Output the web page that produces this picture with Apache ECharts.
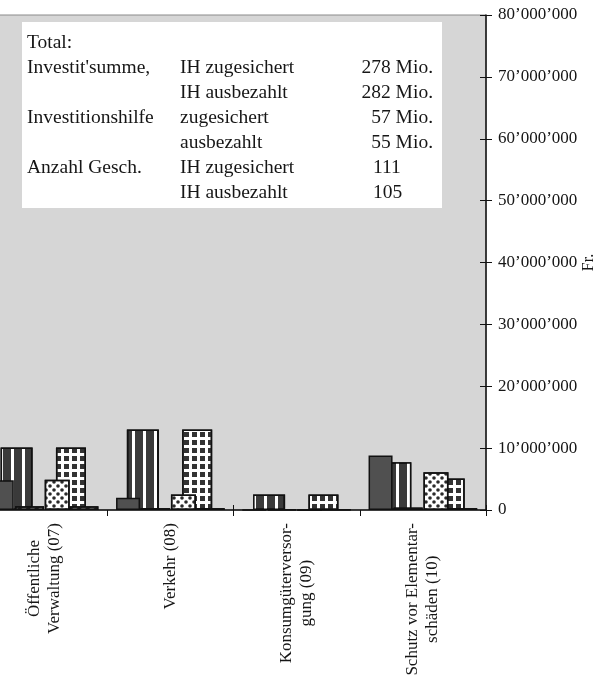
<!DOCTYPE html>
<html>
<head>
<meta charset="utf-8">
<script src="https://cdn.jsdelivr.net/npm/echarts@6/dist/echarts.min.js"></script>
<style>
html, body { margin: 0; padding: 0; background: #fff; }
#chart { width: 601px; height: 680px; }
</style>
</head>
<body>
<div id="chart"></div>
<script>
// categories (the chart is cut on the left, 07..10 are the visible ones)
const categories = ['Öffentliche\nVerwaltung (07)', 'Verkehr (08)', 'Konsumgüterversor-\ngung (09)', 'Schutz vor Elementar-\nschäden (10)'];

// values in Fr.
const invSummeZug = [4800000, 2000000, 0, 8800000];      // Investit'summe, IH zugesichert
const invSummeAus = [10100000, 13000000, 2500000, 7700000]; // Investit'summe, IH ausbezahlt
const anzahlZug   = [600000, 300000, 100000, 400000];     // Anzahl Gesch. IH zugesichert
const ihZug       = [4900000, 2500000, 0, 6100000];       // Investitionshilfe zugesichert
const ihAus       = [10100000, 13000000, 2500000, 5100000]; // Investitionshilfe ausbezahlt
const anzahlAus   = [600000, 300000, 100000, 300000];     // Anzahl Gesch. IH ausbezahlt

const yMin = 0, yMax = 80000000, yStep = 10000000;

// text box with the totals
const totalsRows = [
    ['Total:', '', ''],
    ["Investit'summe,", 'IH zugesichert', '278 Mio.'],
    ['', 'IH ausbezahlt', '282 Mio.'],
    ['Investitionshilfe', 'zugesichert', '57 Mio.'],
    ['', 'ausbezahlt', '55 Mio.'],
    ['Anzahl Gesch.', 'IH zugesichert', '111'],
    ['', 'IH ausbezahlt', '105']
];

const SERIF = '"Liberation Serif", "Times New Roman", serif';
const INK = '#161616';

let chart = echarts.init(document.getElementById('chart'), null, { renderer: 'canvas' });

function fmtFr(v) {
    if (v === 0) return '0';
    return String(v).replace(/\B(?=(\d{3})+(?!\d))/g, '\u2019');
}

function barSeries(name, data, width, color, decal, z) {
    let s = {
        name: name,
        type: 'bar',
        data: data,
        barWidth: width,
        barGap: '-55%',
        z: z,
        itemStyle: {
            color: color,
            borderColor: '#111',
            borderWidth: 1.5
        }
    };
    if (decal) s.itemStyle.decal = decal;
    return s;
}

let graphics = [{
    type: 'rect',
    shape: { x: 22, y: 22, width: 420, height: 186 },
    style: { fill: '#fff' },
    z: 10
}];
totalsRows.forEach(function (row, i) {
    let y = 43 + i * 25;
    let base = { fontSize: 19.5, fontFamily: SERIF, fill: INK, verticalAlign: 'middle', textVerticalAlign: 'middle' };
    if (row[0]) graphics.push({ type: 'text', z: 11, style: Object.assign({ text: row[0], x: 27, y: y, align: 'left', textAlign: 'left' }, base) });
    if (row[1]) graphics.push({ type: 'text', z: 11, style: Object.assign({ text: row[1], x: 180, y: y, align: 'left', textAlign: 'left' }, base) });
    if (row[2]) {
        let isMio = row[2].indexOf('Mio.') >= 0;
        graphics.push({ type: 'text', z: 11, style: Object.assign({
            text: row[2], x: isMio ? 433 : 373, y: y,
            align: isMio ? 'right' : 'left', textAlign: isMio ? 'right' : 'left'
        }, base) });
    }
});

let stripes = { symbol: 'rect', symbolSize: 1, color: '#ffffff', dashArrayX: [3, 8], dashArrayY: [1, 0] };
let hatch = { symbol: 'rect', symbolSize: 1, color: '#222', dashArrayX: [3, 3], dashArrayY: [1, 0], rotation: Math.PI / 4 };
let squares = { symbol: 'rect', symbolSize: 1, color: '#333', dashArrayX: [5, 3], dashArrayY: [5, 3] };
let dots = { symbol: 'circle', symbolSize: 0.9, color: '#2a2a2a', dashArrayX: [[4, 4], [0, 4, 4, 0]], dashArrayY: [4, 0] };

let option = {
    animation: false,
    backgroundColor: '#fff',
    grid: {
        left: -19, right: 115, top: 15, bottom: 170,
        outerBoundsMode: 'none',
        containLabel: false,
        show: true,
        backgroundColor: '#d6d6d6',
        borderColor: '#8a8a8a',
        borderWidth: 1
    },
    xAxis: [{
        type: 'category',
        data: categories,
        position: 'bottom',
        axisLine: { lineStyle: { color: '#111', width: 1.5 } },
        axisTick: { show: true, length: 6, lineStyle: { color: '#111' } },
        axisLabel: {
            interval: 0,
            rotate: 90,
            margin: 13,
            formatter: function (v) {
                return v.split('\n').map(function (s) { return '{c|' + s + '}'; }).join('\n');
            },
            rich: {
                c: { align: 'center', fontSize: 17, fontFamily: SERIF, color: INK, lineHeight: 20 }
            }
        }
    }, {
        type: 'category',
        data: categories,
        position: 'bottom',
        axisLine: { show: false },
        axisTick: { show: true, inside: true, length: 5, lineStyle: { color: '#111' } },
        axisLabel: { show: false }
    }],
    yAxis: [{
        type: 'value',
        position: 'right',
        min: yMin, max: yMax, interval: yStep,
        name: 'Fr.',
        nameLocation: 'middle',
        nameRotate: 90,
        nameGap: 95,
        nameMoveOverlap: false,
        nameTextStyle: { fontSize: 16, fontFamily: SERIF, color: INK },
        axisLine: { show: true, lineStyle: { color: '#111', width: 1.5 } },
        axisTick: { show: true, length: 6, lineStyle: { color: '#111' } },
        splitLine: { show: false },
        axisLabel: { margin: 12, fontSize: 17, fontFamily: SERIF, color: INK, formatter: fmtFr }
    }, {
        type: 'value',
        position: 'right',
        min: yMin, max: yMax, interval: yStep,
        axisLine: { show: false },
        axisTick: { show: true, inside: true, length: 6, lineStyle: { color: '#111' } },
        splitLine: { show: false },
        axisLabel: { show: false }
    }],
    // layout order = series order, drawing order set by z
    series: [
        barSeries("Investit'summe IH zugesichert", invSummeZug, 24, '#505050', null, 3),
        barSeries("Investit'summe IH ausbezahlt", invSummeAus, 32, '#3a3a3a', stripes, 2),
        barSeries('Anzahl Gesch. IH zugesichert', anzahlZug, 29, '#ffffff', hatch, 4),
        // empty spacer between the two groups of three bars
        { name: 'spacer', type: 'bar', data: categories.map(function () { return '-'; }), barWidth: 37, barGap: '-55%', silent: true },
        barSeries('Investitionshilfe zugesichert', ihZug, 25, '#ffffff', dots, 3),
        barSeries('Investitionshilfe ausbezahlt', ihAus, 30, '#ffffff', squares, 2),
        barSeries('Anzahl Gesch. IH ausbezahlt', anzahlAus, 29, '#ffffff', hatch, 4)
    ],
    graphic: graphics
};

chart.setOption(option);
</script>
</body>
</html>
